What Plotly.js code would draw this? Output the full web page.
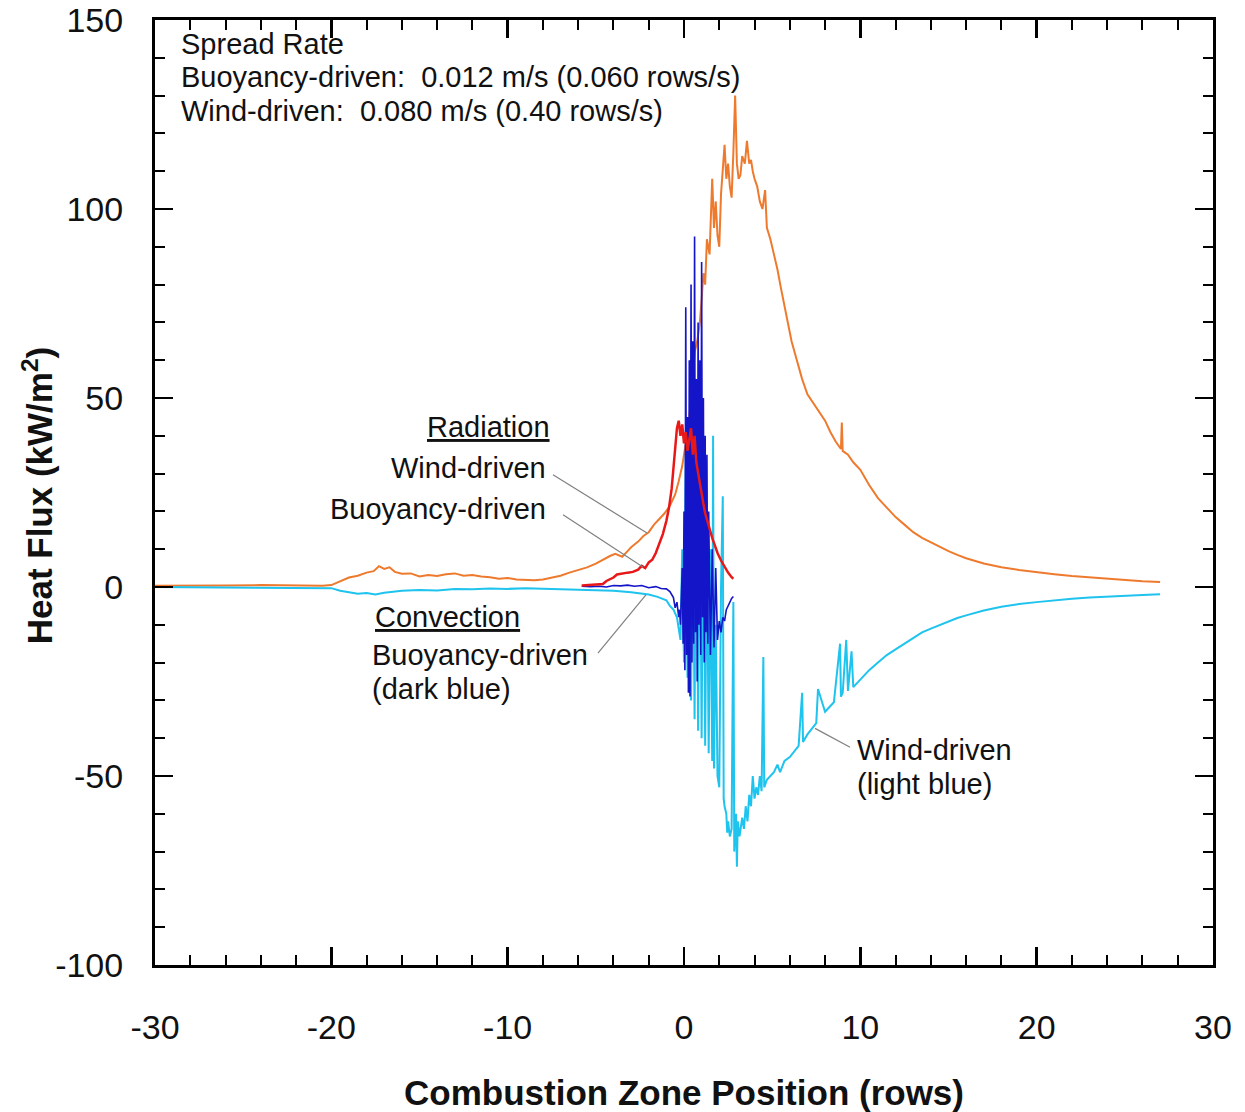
<!DOCTYPE html>
<html>
<head>
<meta charset="utf-8">
<script src="https://cdn.plot.ly/plotly-3.0.1.min.js"></script>
<style>html,body{margin:0;padding:0;background:#fff;}#chart{width:1245px;height:1112px;}</style>
</head>
<body>
<div id="chart"></div>
<script>
// Radiation, wind-driven (orange)
const radWindX = [-30,-28,-26,-24,-22,-20.5,-20,-19.5,-19,-18.5,-18,-17.6,-17.3,-17,-16.7,-16.4,-16,-15.5,-15,-14.5,-14,-13.5,-13,-12.5,-12,-11.5,-11,-10.5,-10,-9.5,-9,-8.5,-8,-7.5,-7,-6.5,-6,-5.5,-5,-4.5,-4.2,-3.9,-3.5,-3.2,-3,-2.6,-2.3,-2,-1.7,-1.4,-1.1,-0.8,-0.5,-0.3,-0.1,0.1,0.3,0.5,0.6,0.75,0.9,1.0,1.1,1.2,1.3,1.45,1.6,1.7,1.8,1.9,2.0,2.1,2.2,2.3,2.4,2.5,2.6,2.7,2.8,2.9,3.0,3.1,3.2,3.3,3.45,3.57,3.7,3.8,3.9,4.0,4.15,4.3,4.45,4.6,4.7,4.9,5.1,5.3,5.5,5.7,5.9,6.1,6.4,6.7,7.0,7.3,7.7,8.0,8.3,8.6,8.9,8.95,9.0,9.3,9.6,10,10.5,11,11.5,12,12.5,13,13.5,14,14.5,15,15.5,16,17,18,19,20,21,22,23,24,25,26,27];
const radWindY = [0.3,0.3,0.4,0.5,0.4,0.3,0.5,1.5,2.5,3.0,3.8,4.2,5.5,4.8,5.2,4.0,3.5,3.6,2.8,3.2,2.9,3.4,3.6,3.0,3.2,2.8,2.6,2.2,2.4,2.0,1.9,1.8,2.0,2.4,3.0,3.8,4.5,5.2,6.2,7.5,8.2,8.8,8.0,9.5,10.5,12,13.5,14.5,16.5,18,19.5,21.5,24.5,28,32,38,45,55,62,65,70,76,83,80,92,88,108,95,102,93,90,104,110,117,108,112,106,103,115,130,112,108,109,114,112,118,112,113,110,108,106,102,100,105,95,92,88,84,79,74,70,65,60,55,51,49,46,44,41,38.5,36.5,43.5,36,35,33,31,27,23.5,21,18.5,16.5,14.5,13,11.8,10.5,9.5,8.5,7.6,6.2,5.2,4.5,3.9,3.4,2.9,2.5,2.1,1.8,1.5,1.3];

// Convection, wind-driven (light blue)
const convWindX = [-30,-25,-21,-20,-19.5,-19,-18.5,-18,-17.5,-17,-16.5,-16,-15,-14,-13,-12,-11,-10,-9,-8,-7,-6,-5,-4,-3,-2,-1.5,-1,-0.8,-0.6,-0.4,-0.2,-0.1,0.0,0.1,0.2,0.3,0.4,0.5,0.6,0.7,0.8,0.9,1.0,1.1,1.2,1.3,1.4,1.5,1.6,1.65,1.7,1.8,1.9,2.0,2.1,2.2,2.25,2.3,2.4,2.45,2.5,2.6,2.7,2.8,2.85,2.95,3.0,3.05,3.15,3.3,3.4,3.5,3.6,3.7,3.8,3.9,4.0,4.1,4.2,4.3,4.4,4.5,4.55,4.7,4.9,5.1,5.3,5.45,5.7,6.0,6.5,6.7,6.75,7.0,7.5,7.6,8.0,8.5,8.85,8.9,9.0,9.2,9.3,9.5,9.6,10,10.5,11,11.5,12,12.5,13,13.5,14,14.5,15,15.5,16,17,18,19,20,21,22,23,24,25,26,27];
const convWindY = [0,-0.1,-0.2,-0.3,-1.0,-1.5,-1.8,-1.6,-2.0,-1.5,-1.3,-1.0,-0.8,-0.9,-0.5,-0.6,-0.4,-0.5,-0.3,-0.4,-0.5,-0.6,-0.8,-1.0,-1.4,-2.0,-2.6,-3.5,-5.0,-6,-8,-14,10,-20,35,-24,45,-30,25,-35,49,-38,30,-40,38,-42,15,-44,10,-46,40,-48,-10,-50,-53,0,24,-56,-58,-60,-65,-62,-66,-64,-4,-70,-60,-74,-62,-66,-61,-64,-58,-62,-55,-58,-50,-56,-53,-55,-50,-54,-18.5,-53,-51,-50,-49,-47,-49,-46,-45,-42,-28,-41,-39,-36,-27,-33,-30.5,-15,-29,-28,-14,-27.5,-17,-26.5,-24.5,-22,-20,-18,-16.5,-15,-13.5,-12,-11,-10,-9,-8.2,-7.5,-6.2,-5.2,-4.5,-4.0,-3.5,-3.1,-2.8,-2.5,-2.3,-2.1,-1.9];

// Convection, buoyancy-driven (dark blue)
const convBuoyX = [-5.8,-5.3,-4.8,-4.4,-4.0,-3.6,-3.2,-2.8,-2.4,-2.0,-1.6,-1.3,-1.0,-0.8,-0.6,-0.5,-0.4,-0.3,-0.25,-0.2,-0.1,-0.05,0.0,0.05,0.1,0.15,0.2,0.25,0.3,0.34,0.4,0.45,0.5,0.55,0.6,0.65,0.7,0.75,0.8,0.85,0.9,0.95,1.0,1.05,1.1,1.15,1.2,1.25,1.3,1.35,1.4,1.5,1.6,1.7,1.8,1.9,2.0,2.1,2.2,2.3,2.4,2.5,2.6,2.7,2.8];
const convBuoyY = [0.2,0.1,0.2,0.0,0.4,0.3,0.5,0.2,0.4,-0.2,0.1,-0.4,-0.5,-1.2,-2.8,-5.5,-4.0,-8.0,-6,-10,5,-15,20,-22,74,-18,45,-28,60,-29,80,-20,65,-15,92.7,-12,55,-25,70,-10,60,-18,86,-8,50,-20,40,-12,35,-15,20,-18,10,-16,5,-14,-9,-12,-8,-9,-6,-5,-4,-3,-2.5];

// Radiation, buoyancy-driven (red)
const radBuoyX = [-5.8,-5.4,-5.0,-4.6,-4.4,-4.2,-4.0,-3.8,-3.5,-3.2,-2.9,-2.6,-2.4,-2.2,-2.0,-1.8,-1.6,-1.4,-1.2,-1.0,-0.85,-0.7,-0.6,-0.5,-0.4,-0.3,-0.2,-0.1,0.0,0.1,0.2,0.3,0.4,0.5,0.6,0.7,0.8,0.9,1.0,1.1,1.2,1.3,1.45,1.6,1.75,1.9,2.1,2.3,2.5,2.7,2.8];
const radBuoyY = [0.4,0.5,0.6,0.8,1.6,2.0,2.5,3.3,3.6,3.8,4.0,4.6,5.6,5.0,6.5,7.2,9.0,11.5,14.0,17.5,21,26,32,37,42,44,40,43,38,41,36,39,42,35,40,33,30,28,25,22,19.5,17.8,15.5,13,11,9,7,5.3,3.8,2.6,2.2];

const xTickVals = [-30,-20,-10,0,10,20,30];
const yTickVals = [-100,-50,0,50,100,150];

const FONT = "Arial, 'Liberation Sans', sans-serif";

const traces = [
  {x: radWindX, y: radWindY, type:'scatter', mode:'lines', line:{color:'#EE7A2E', width:2}, name:'Radiation wind-driven'},
  {x: convWindX, y: convWindY, type:'scatter', mode:'lines', line:{color:'#1EC3EE', width:2}, name:'Convection wind-driven'},
  {x: convBuoyX, y: convBuoyY, type:'scatter', mode:'lines', line:{color:'#1414C8', width:1.6}, name:'Convection buoyancy-driven'},
  {x: radBuoyX, y: radBuoyY, type:'scatter', mode:'lines', line:{color:'#E81818', width:2.5}, name:'Radiation buoyancy-driven'}
];

function ann(text, x, y, xanchor){
  return {text:text, x:x, y:y, xref:'x', yref:'y', xanchor:xanchor, yanchor:'middle', showarrow:false,
          font:{family:FONT, size:29, color:'#111'}};
}

const annotations = [
  ann('Spread Rate', -28.64, 143.6, 'left'),
  ann('Buoyancy-driven:  0.012 m/s (0.060 rows/s)', -28.64, 134.9, 'left'),
  ann('Wind-driven:  0.080 m/s (0.40 rows/s)', -28.64, 125.9, 'left'),
  ann('<u>Radiation</u>', -11.06, 42.4, 'center'),
  ann('Wind-driven', -7.7, 31.5, 'right'),
  ann('Buoyancy-driven', -7.7, 20.7, 'right'),
  ann('<u>Convection</u>', -13.44, -7.95, 'center'),
  ann('Buoyancy-driven', -17.8, -18.0, 'left'),
  ann('(dark blue)', -17.8, -27.0, 'left'),
  ann('Wind-driven', 9.7, -43.2, 'left'),
  ann('(light blue)', 9.7, -52.2, 'left'),
  {text:'<b>Heat Flux (kW/m<sup>2</sup>)</b>', xref:'paper', yref:'paper', x:-0.1106, y:0.497,
   xanchor:'center', yanchor:'middle', textangle:-90, showarrow:false,
   font:{family:FONT, size:35, color:'#111'}}
];

function leader(x0,y0,x1,y1){
  return {type:'line', xref:'x', yref:'y', x0:x0, y0:y0, x1:x1, y1:y1, line:{color:'#808080', width:1.2}};
}
const shapes = [
  leader(-7.43, 29.7, -2.1, 14.3),
  leader(-6.86, 19.1, -2.33, 5.3),
  leader(-4.88, -17.5, -2.16, -2.1),
  leader(9.42, -42.4, 7.43, -37.4)
];

const axisCommon = {
  showline:true, linecolor:'#000', linewidth:3, mirror:'allticks',
  ticks:'inside', ticklen:18, tickwidth:2.5, tickcolor:'#000',
  showgrid:false, zeroline:false,
  tickfont:{family:FONT, size:34, color:'#111'}
};

const layout = {
  width:1245, height:1112,
  margin:{l:155, r:32, t:20, b:147},
  paper_bgcolor:'#fff', plot_bgcolor:'#fff',
  showlegend:false,
  xaxis: Object.assign({}, axisCommon, {
    range:[-30,30], tickvals:xTickVals, ticktext:xTickVals.map(String),
    minor:{dtick:2, tick0:0, ticks:'inside', ticklen:10, tickwidth:2, tickcolor:'#000', showgrid:false},
    ticklabelstandoff:30,
    title:{text:'<b>Combustion Zone Position (rows)</b>', font:{family:FONT, size:35, color:'#111'}, standoff:36}
  }),
  yaxis: Object.assign({}, axisCommon, {
    range:[-100,150], tickvals:yTickVals, ticktext:yTickVals.map(String),
    minor:{dtick:10, tick0:0, ticks:'inside', ticklen:10, tickwidth:2, tickcolor:'#000', showgrid:false},
    ticklabelstandoff:22
  }),
  annotations: annotations,
  shapes: shapes
};

Plotly.newPlot('chart', traces, layout, {displayModeBar:false, staticPlot:true});
</script>
</body>
</html>
